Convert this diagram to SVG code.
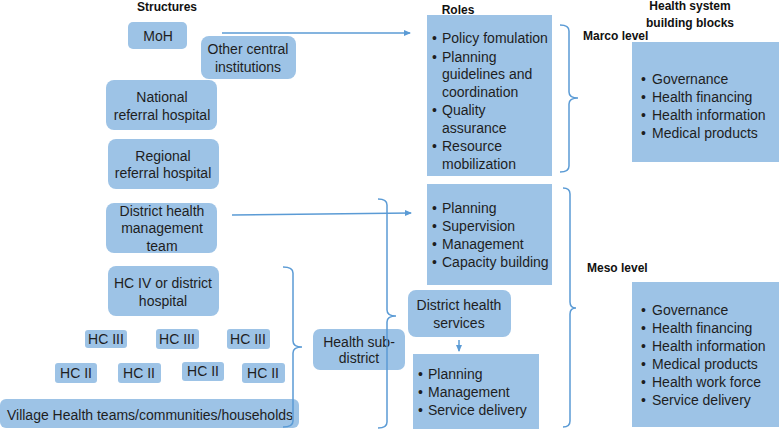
<svg xmlns="http://www.w3.org/2000/svg" width="779" height="429" viewBox="0 0 779 429">
<defs>
<style>
.b{fill:#9DC3E6;stroke:none}
.t{font-family:"Liberation Sans",Arial,sans-serif;font-size:14px;fill:#1e1e1e}
.c{text-anchor:middle}
.h{font-family:"Liberation Sans",Arial,sans-serif;font-size:12px;font-weight:bold;fill:#111}
.ln{fill:none;stroke:#5B9BD5;stroke-width:1.5}
</style>
<marker id="ah" markerWidth="8" markerHeight="8" refX="6" refY="3" orient="auto" markerUnits="userSpaceOnUse">
<path d="M0,0 L7,3 L0,6 Z" fill="#5B9BD5"/>
</marker>
</defs>
<rect width="779" height="429" fill="#fff"/>

<text class="h c" x="167" y="11">Structures</text>
<text class="h c" x="458" y="14">Roles</text>
<text class="h c" x="690" y="10">Health system</text>
<text class="h c" x="690" y="27">building blocks</text>
<text class="h" x="583" y="40">Marco level</text>
<text class="h" x="587" y="272">Meso level</text>

<g id="moh"><rect class="b" x="128" y="22" width="59" height="27" rx="5"/><text class="t c" x="158" y="41">MoH</text></g>
<g id="other-central"><rect class="b" x="201" y="36" width="95" height="43" rx="8"/><text class="t c" x="248" y="54">Other central</text><text class="t c" x="248" y="72">institutions</text></g>
<g id="national"><rect class="b" x="106" y="80" width="111" height="50" rx="8"/><text class="t c" x="162" y="102">National</text><text class="t c" x="162" y="120">referral hospital</text></g>
<g id="regional"><rect class="b" x="108" y="139" width="111" height="50" rx="8"/><text class="t c" x="163" y="161">Regional</text><text class="t c" x="163" y="178">referral hospital</text></g>
<g id="dhmt"><rect class="b" x="106" y="203" width="111" height="50" rx="8"/><text class="t c" x="162" y="216">District health</text><text class="t c" x="162" y="233">management</text><text class="t c" x="162" y="251">team</text></g>
<g id="hc4"><rect class="b" x="108" y="266" width="111" height="50" rx="8"/><text class="t c" x="163" y="288">HC IV or district</text><text class="t c" x="163" y="306">hospital</text></g>
<g id="hc3a"><rect class="b" x="85" y="330" width="42" height="18" rx="3"/><text class="t c" x="106" y="344">HC III</text></g>
<g id="hc3b"><rect class="b" x="156" y="329" width="43" height="20" rx="3"/><text class="t c" x="177" y="344">HC III</text></g>
<g id="hc3c"><rect class="b" x="227" y="329" width="43" height="20" rx="3"/><text class="t c" x="248" y="344">HC III</text></g>
<g id="hc2a"><rect class="b" x="55" y="363" width="42" height="20" rx="3"/><text class="t c" x="76" y="378">HC II</text></g>
<g id="hc2b"><rect class="b" x="118" y="363" width="43" height="20" rx="3"/><text class="t c" x="139" y="378">HC II</text></g>
<g id="hc2c"><rect class="b" x="182" y="362" width="42" height="19" rx="3"/><text class="t c" x="203" y="376">HC II</text></g>
<g id="hc2d"><rect class="b" x="242" y="363" width="43" height="20" rx="3"/><text class="t c" x="263" y="378">HC II</text></g>
<g id="village"><rect class="b" x="0" y="399" width="299" height="29" rx="6"/><text class="t c" x="150" y="420">Village Health teams/communities/households</text></g>
<g id="subdistrict"><rect class="b" x="313" y="329" width="92" height="41" rx="7"/><text class="t c" x="359" y="347">Health sub-</text><text class="t c" x="359" y="363">district</text></g>
<g id="dhs"><rect class="b" x="408" y="290" width="103" height="47" rx="8"/><text class="t c" x="459" y="310">District health</text><text class="t c" x="459" y="328">services</text></g>

<g id="roles-macro"><rect class="b" x="427" y="15" width="125" height="161"/>
<g class="t">
<text x="432" y="43">•</text><text x="442" y="43">Policy fomulation</text>
<text x="432" y="62">•</text><text x="442" y="62">Planning</text>
<text x="442" y="79">guidelines and</text>
<text x="442" y="97">coordination</text>
<text x="432" y="115">•</text><text x="442" y="115">Quality</text>
<text x="442" y="133">assurance</text>
<text x="432" y="151">•</text><text x="442" y="151">Resource</text>
<text x="442" y="169">mobilization</text>
</g></g>

<g id="roles-dhmt"><rect class="b" x="427" y="184" width="125" height="101"/>
<g class="t">
<text x="432" y="213">•</text><text x="442" y="213">Planning</text>
<text x="432" y="231">•</text><text x="442" y="231">Supervision</text>
<text x="432" y="249">•</text><text x="442" y="249">Management</text>
<text x="432" y="267">•</text><text x="442" y="267">Capacity building</text>
</g></g>

<g id="roles-dhs"><rect class="b" x="413" y="354" width="126" height="75"/>
<g class="t">
<text x="418" y="379">•</text><text x="428" y="379">Planning</text>
<text x="418" y="397">•</text><text x="428" y="397">Management</text>
<text x="418" y="415">•</text><text x="428" y="415">Service delivery</text>
</g></g>

<g id="blocks-macro"><rect class="b" x="632" y="42" width="147" height="120"/>
<g class="t">
<text x="641" y="84">•</text><text x="652" y="84">Governance</text>
<text x="641" y="102">•</text><text x="652" y="102">Health financing</text>
<text x="641" y="120">•</text><text x="652" y="120">Health information</text>
<text x="641" y="138">•</text><text x="652" y="138">Medical products</text>
</g></g>

<g id="blocks-meso"><rect class="b" x="632" y="282" width="147" height="145"/>
<g class="t">
<text x="641" y="315">•</text><text x="652" y="315">Governance</text>
<text x="641" y="333">•</text><text x="652" y="333">Health financing</text>
<text x="641" y="351">•</text><text x="652" y="351">Health information</text>
<text x="641" y="369">•</text><text x="652" y="369">Medical products</text>
<text x="641" y="387">•</text><text x="652" y="387">Health work force</text>
<text x="641" y="405">•</text><text x="652" y="405">Service delivery</text>
</g></g>

<g id="connectors">
<line class="ln" x1="222" y1="33" x2="410" y2="33" marker-end="url(#ah)"/>
<line class="ln" x1="232" y1="215" x2="411" y2="213" marker-end="url(#ah)"/>
<line class="ln" x1="459" y1="340" x2="459" y2="351" marker-end="url(#ah)"/>
<path class="ln" d="M560,25 Q569,25 569,31 L569,92 Q569,98 578,98 Q569,98 569,104 L569,166 Q569,172 560,172"/>
<path class="ln" d="M563,188 Q570,188 570,194 L570,302 Q570,308 576,308 Q570,308 570,314 L570,421 Q570,427 563,427"/>
<path class="ln" d="M283,267 Q293,267 293,273 L293,341 Q293,347 302,347 Q293,347 293,353 L293,421 Q293,427 283,427"/>
<path class="ln" d="M378,199 Q387,199 387,205 L387,310 Q387,316 396,316 Q387,316 387,322 L387,422 Q387,428 378,428"/>
</g>
</svg>
